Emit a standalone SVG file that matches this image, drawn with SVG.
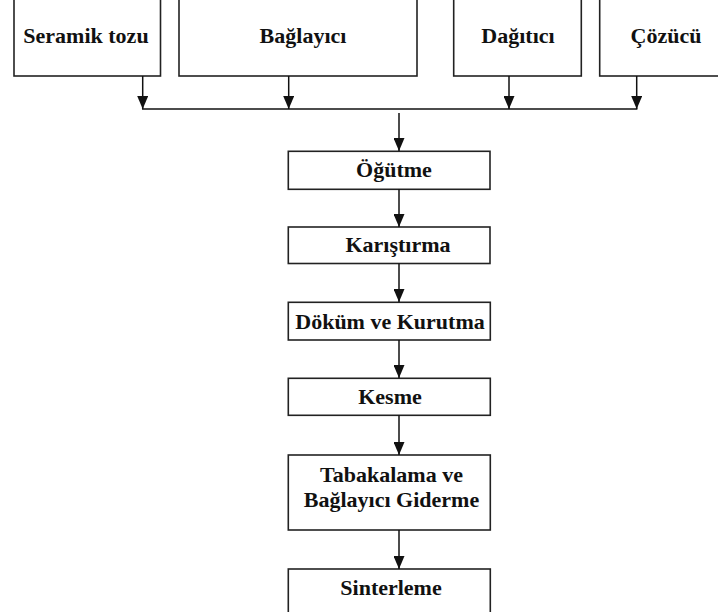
<svg xmlns="http://www.w3.org/2000/svg" width="718" height="612" viewBox="0 0 718 612">
<style>
.box{fill:#fff;stroke:#222;stroke-width:1.6}
.lbl{font-family:"Liberation Serif","Times New Roman",serif;font-weight:bold;font-size:22px;fill:#111;text-anchor:middle}
.con{stroke:#111;stroke-width:1.5;fill:none}
</style>
<defs>
<marker id="ah" markerUnits="userSpaceOnUse" markerWidth="13" markerHeight="11" viewBox="0 0 13 11" refX="13" refY="5.5" orient="auto">
<path d="M0,0 L13,5.5 L0,11 z" fill="#111"/>
</marker>
</defs>
<rect width="718" height="612" fill="#fff"/>
<g id="n-seramik"><rect class="box" x="14" y="-2" width="146.5" height="78"/><text class="lbl" x="86" y="43">Seramik tozu</text></g>
<g id="n-baglayici"><rect class="box" x="179" y="-2" width="238" height="78"/><text class="lbl" x="303" y="43">Bağlayıcı</text></g>
<g id="n-dagitici"><rect class="box" x="453.7" y="-2" width="127.6" height="78"/><text class="lbl" x="518" y="43">Dağıtıcı</text></g>
<g id="n-cozucu"><rect class="box" x="599.7" y="-2" width="132" height="78"/><text class="lbl" x="666" y="43">Çözücü</text></g>
<g id="n-ogutme"><rect class="box" x="288.3" y="151.3" width="201.7" height="38"/><text class="lbl" x="394" y="177">Öğütme</text></g>
<g id="n-karistirma"><rect class="box" x="288.3" y="227" width="201.7" height="36.5"/><text class="lbl" x="398" y="252">Karıştırma</text></g>
<g id="n-dokum"><rect class="box" x="288.3" y="302.3" width="202" height="37.7"/><text class="lbl" x="390" y="328.5">Döküm ve Kurutma</text></g>
<g id="n-kesme"><rect class="box" x="288.3" y="378.3" width="202" height="37"/><text class="lbl" x="390" y="403.5">Kesme</text></g>
<g id="n-tabakalama"><rect class="box" x="288.3" y="455" width="202" height="75"/><text class="lbl" x="391.5" y="482">Tabakalama ve</text><text class="lbl" x="391.5" y="506.5">Bağlayıcı Giderme</text></g>
<g id="n-sinterleme"><rect class="box" x="288.3" y="569" width="202" height="50"/><text class="lbl" x="391" y="595">Sinterleme</text></g>
<g id="connectors">
<line class="con" x1="142.7" y1="76" x2="142.7" y2="109" marker-end="url(#ah)"/>
<line class="con" x1="288.7" y1="76" x2="288.7" y2="109" marker-end="url(#ah)"/>
<line class="con" x1="509" y1="76" x2="509" y2="109" marker-end="url(#ah)"/>
<line class="con" x1="636.7" y1="76" x2="636.7" y2="109" marker-end="url(#ah)"/>
<line class="con" x1="142" y1="109" x2="637.4" y2="109"/>
<line class="con" x1="399" y1="113" x2="399" y2="151" marker-end="url(#ah)"/>
<line class="con" x1="399" y1="189.3" x2="399" y2="227" marker-end="url(#ah)"/>
<line class="con" x1="399" y1="263.5" x2="399" y2="302" marker-end="url(#ah)"/>
<line class="con" x1="399" y1="340" x2="399" y2="378" marker-end="url(#ah)"/>
<line class="con" x1="399" y1="415.3" x2="399" y2="455" marker-end="url(#ah)"/>
<line class="con" x1="399" y1="530" x2="399" y2="569" marker-end="url(#ah)"/>
</g>
</svg>
